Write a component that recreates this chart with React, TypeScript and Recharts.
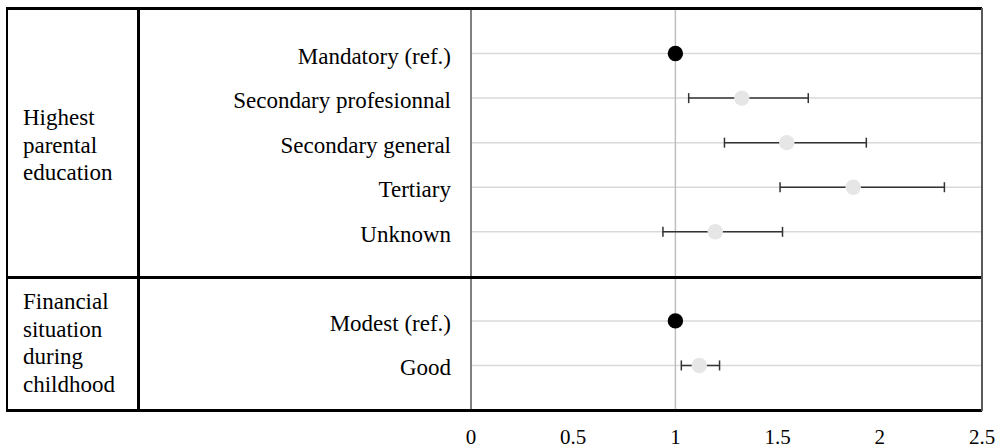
import {
  ScatterChart,
  Scatter,
  XAxis,
  YAxis,
  CartesianGrid,
  ErrorBar,
  ReferenceLine,
} from 'recharts';

// rows are placed on a 0..9 numeric scale, 3 is the gap between the two groups
const rowLabels = [
  'Mandatory (ref.)',
  'Secondary profesionnal',
  'Secondary general',
  'Tertiary',
  'Unknown',
  'Modest (ref.)',
  'Good',
];
const rowPositions = [8, 7, 6, 5, 4, 2, 1];
const oddsRatios = [1, 1.325, 1.545, 1.87, 1.195, 1, 1.117];
const ciLow = [1, 1.065, 1.24, 1.512, 0.939, 1, 1.029];
const ciHigh = [1, 1.65, 1.934, 2.316, 1.524, 1, 1.216];
const isReference = [true, false, false, false, false, true, false];
const xTicks = [0, 0.5, 1, 1.5, 2, 2.5];
const groupLabels = [
  ['Highest', 'parental', 'education'],
  ['Financial', 'situation', 'during', 'childhood'],
];

const FONT = "'Liberation Serif', 'DejaVu Serif', serif";

const points = rowLabels.map((label, i) => ({
  label,
  x: oddsRatios[i],
  y: rowPositions[i],
  err: [oddsRatios[i] - ciLow[i], ciHigh[i] - oddsRatios[i]],
}));
const ciPoints = points.filter((_, i) => !isReference[i]);
const estPoints = points.filter((_, i) => !isReference[i]);
const refPoints = points.filter((_, i) => isReference[i]);

function RowTick(props: any) {
  const { y, payload } = props;
  const idx = rowPositions.indexOf(payload.value);
  if (idx < 0) return null;
  return (
    <text x={451} y={y + 10} textAnchor="end" fill="#000" style={{ fontFamily: FONT, fontSize: 23 }}>
      {rowLabels[idx]}
    </text>
  );
}

const line = (style: React.CSSProperties) => (
  <div style={{ position: 'absolute', background: '#000', ...style }} />
);

export default function App() {
  return (
    <div
      style={{
        position: 'absolute',
        left: 0,
        top: 0,
        width: 1005,
        height: 448,
        background: '#fff',
        fontFamily: FONT,
      }}
    >
      <ScatterChart width={1005} height={448} margin={{ top: 9, right: 23, bottom: 0, left: 0 }}>
        <CartesianGrid vertical={false} stroke="#d9d9d9" strokeWidth={1.5} />
        <XAxis
          type="number"
          dataKey="x"
          domain={[0, 2.5]}
          ticks={xTicks}
          interval={0}
          height={38}
          axisLine={false}
          tickLine={false}
          tickSize={0}
          tickMargin={19}
          tick={{ fill: '#000', fontSize: 21, style: { fontFamily: FONT } }}
        />
        <YAxis
          type="number"
          dataKey="y"
          domain={[0, 9]}
          ticks={rowPositions}
          interval={0}
          width={471}
          axisLine={{ stroke: '#808080', strokeWidth: 2 }}
          tickLine={false}
          tick={<RowTick />}
        />
        <ReferenceLine x={1} stroke="#bfbfbf" strokeWidth={1.5} />
        <Scatter data={ciPoints} isAnimationActive={false} shape={() => <g />}>
          <ErrorBar
            dataKey="err"
            direction="x"
            width={5}
            stroke="#333"
            strokeWidth={1.5}
            isAnimationActive={false}
          />
        </Scatter>
        <Scatter
          data={estPoints}
          isAnimationActive={false}
          shape={(p: any) => <circle cx={p.cx} cy={p.cy} r={7.7} fill="#e6e6e6" />}
        />
        <Scatter
          data={refPoints}
          isAnimationActive={false}
          shape={(p: any) => <circle cx={p.cx} cy={p.cy} r={7.7} fill="#000" />}
        />
      </ScatterChart>

      {/* table frame */}
      {line({ left: 6, top: 7, width: 976, height: 3 })}
      {line({ left: 6, top: 276, width: 976, height: 3 })}
      {line({ left: 6, top: 409, width: 976, height: 3 })}
      {line({ left: 6, top: 7, width: 2, height: 405 })}
      {line({ left: 137, top: 7, width: 3, height: 405 })}
      {line({ left: 981, top: 8, width: 2, height: 403, background: '#595959' })}

      {groupLabels.map((lines, g) => (
        <div
          key={g}
          style={{
            position: 'absolute',
            left: 23,
            top: g === 0 ? 104 : 288,
            fontSize: 23,
            lineHeight: '27.6px',
            color: '#000',
          }}
        >
          {lines.map((t) => (
            <div key={t}>{t}</div>
          ))}
        </div>
      ))}
    </div>
  );
}
